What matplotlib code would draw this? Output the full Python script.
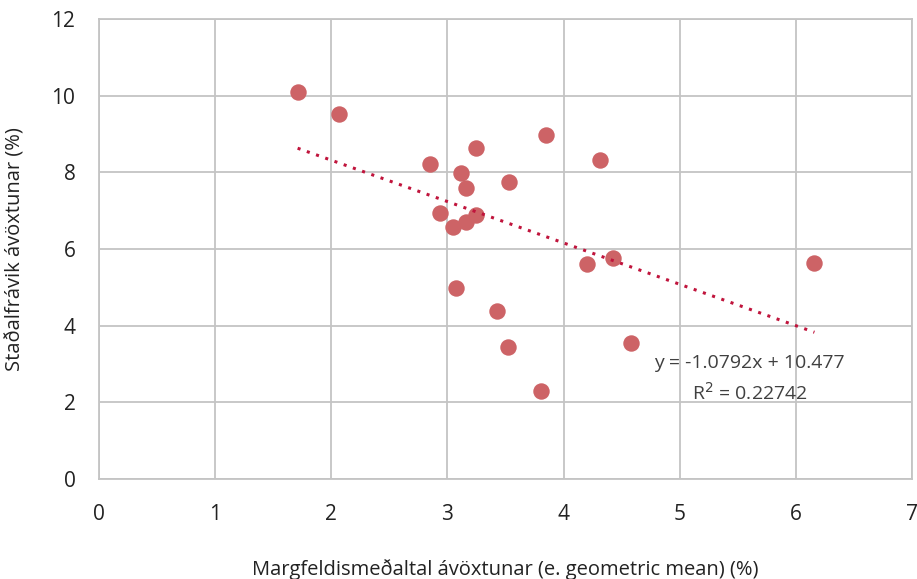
import numpy as np
import matplotlib.pyplot as plt

plt.rcParams['font.family'] = ['Open Sans', 'DejaVu Sans']

# geometric mean (%) and standard deviation (%) per fund
mean_x = [1.71, 2.07, 2.85, 3.25, 3.85, 4.31, 3.12, 3.16, 3.53, 2.94, 3.25,
          3.16, 3.05, 4.20, 4.43, 6.16, 3.07, 3.43, 3.52, 4.58, 3.81]
std_y = [10.10, 9.52, 8.22, 8.64, 8.97, 8.32, 7.98, 7.59, 7.75, 6.94, 6.89,
         6.70, 6.57, 5.61, 5.77, 5.64, 4.98, 4.38, 3.44, 3.55, 2.30]

slope = -1.0792
intercept = 10.477
r2 = 0.22742

fig = plt.figure(figsize=(9.17, 5.79), dpi=100)
ax = fig.add_axes([0.108, 0.1727, 0.8865, 0.7943])

ax.scatter(mean_x, std_y, s=140, color='#CD6366', zorder=3, linewidths=0)

xs = np.array([min(mean_x), max(mean_x)])
ax.plot(xs, slope * xs + intercept, color='#C0143C', linestyle=(0, (1, 2.2)),
        linewidth=2.2, zorder=4)

ax.set_xlim(0, 7)
ax.set_ylim(0, 12)
ax.set_xticks(range(0, 8))
ax.set_yticks(range(0, 13, 2))
ax.grid(True, color='#C4C4C4', linewidth=1.3)
ax.set_axisbelow(True)
for s in ax.spines.values():
    s.set_color('#C4C4C4')
    s.set_linewidth(1.3)
ax.tick_params(length=0, labelsize=15, colors='#222222')
ax.tick_params(axis='x', pad=18)
ax.tick_params(axis='y', pad=17)

ax.text(5.6, 3.03, 'y = -1.0792x + 10.477', ha='center', va='center',
        fontsize=14, color='#404040')
ax.text(5.6, 2.24, 'R$^2$ = %.5f' % r2, ha='center', va='center',
        fontsize=14, color='#404040')

ax.set_xlabel('Margfeldismeðaltal ávöxtunar (e. geometric mean) (%)',
              fontsize=14.5, color='#222222')
ax.xaxis.set_label_coords(0.5, -0.175)
ax.set_ylabel('Staðalfrávik ávöxtunar (%)', fontsize=14.5, color='#222222')
ax.yaxis.set_label_coords(-0.09, 0.5)

fig.savefig('out.png', dpi=100)
